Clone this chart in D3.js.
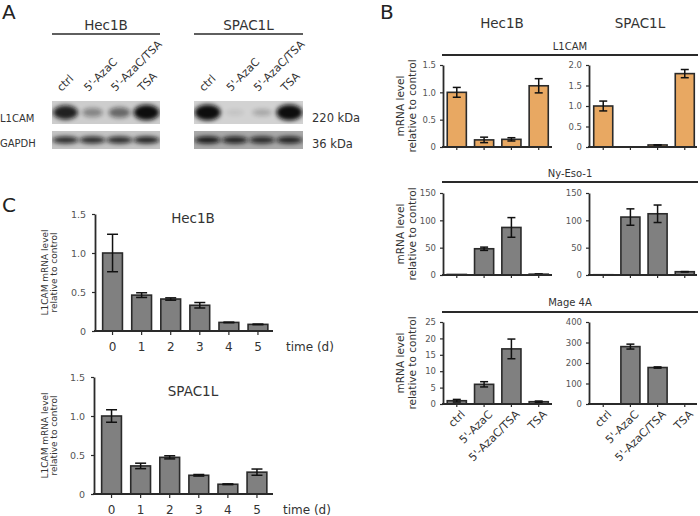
<!DOCTYPE html>
<html><head><meta charset="utf-8">
<script src="https://cdn.jsdelivr.net/npm/d3@7"></script>
<style>
body{margin:0;background:#fff}
svg{display:block}
text{font-family:"DejaVu Sans",Verdana,sans-serif}
</style>
</head><body>
<svg id="fig" width="700" height="516"></svg>
<script>
// ---------- DATA ----------
const treatments = ["ctrl", "5'-AzaC", "5'-AzaC/TSA", "TSA"];
const cellLines = ["Hec1B", "SPAC1L"];
const blotTargets = ["L1CAM", "GAPDH"];
const blotSizes = ["220 kDa", "36 kDa"];
// Panel A: band darkness (0..1) read from the blots
const blotHecL1CAM = [0.85, 0.35, 0.5, 0.97];
const blotHecGAPDH = [0.8, 0.8, 0.8, 0.85];
const blotSpacL1CAM = [1.0, 0.07, 0.2, 1.0];
const blotSpacGAPDH = [0.9, 0.85, 0.8, 0.85];
// Panel B: mRNA level relative to control
const bGenes = ["L1CAM", "Ny-Eso-1", "Mage 4A"];
const l1camHec = [1.0, 0.13, 0.14, 1.12];
const l1camHecErr = [0.09, 0.05, 0.03, 0.13];
const l1camSpac = [1.0, 0.0, 0.05, 1.79];
const l1camSpacErr = [0.12, 0, 0.005, 0.1];
const nyHec = [1.0, 48, 87, 1.5];
const nyHecErr = [0, 3, 18, 0.5];
const nySpac = [0.5, 106, 112, 6];
const nySpacErr = [0, 15, 16, 0.3];
const mageHec = [1.0, 6.0, 16.8, 0.7];
const mageHecErr = [0.4, 0.8, 3.0, 0.2];
const mageSpac = [1, 280, 178, 1];
const mageSpacErr = [0, 12, 3, 0];
const ticksL1camHec = [0, 0.5, 1.0, 1.5];
const ticksL1camSpac = [0, 0.5, 1.0, 1.5, 2.0];
const ticksNy = [0, 50, 100, 150];
const ticksMageHec = [0, 5, 10, 15, 20, 25];
const ticksMageSpac = [0, 100, 200, 300, 400];
// Panel C: time course
const days = [0, 1, 2, 3, 4, 5];
const timeHec = [1.0, 0.46, 0.41, 0.33, 0.11, 0.085];
const timeHecErr = [0.24, 0.03, 0.015, 0.035, 0.004, 0.004];
const timeSpac = [1.0, 0.36, 0.47, 0.24, 0.125, 0.28];
const timeSpacErr = [0.08, 0.035, 0.02, 0.01, 0.005, 0.04];
const ticksTime = [0, 0.5, 1.0, 1.5];

// ---------- DRAWING ----------
const svg = d3.select("#fig");
const INK = "#2a2a2a", TXT = "#333", TICK = "#555";
const fmtDec = d => d === 0 ? "0" : d3.format(".1f")(d);
const fmtInt = d => String(d);

function panelLetter(t, x, y) {
  svg.append("text").attr("x", x).attr("y", y).attr("font-size", 20).attr("fill", "#222").text(t);
}
panelLetter("A", 2, 19);
panelLetter("B", 380, 19);
panelLetter("C", 2, 212);

// ===== Panel A =====
const defs = svg.append("defs");
defs.append("filter").attr("id", "blur").attr("x", "-50%").attr("y", "-80%").attr("width", "200%").attr("height", "260%")
  .append("feGaussianBlur").attr("stdDeviation", 2.2);

const blotGroups = [
  {name: "Hec1B", x0: 52, x1: 160, rows: [blotHecL1CAM, blotHecGAPDH], bg: ["#cdcdcd", "#c4c4c4"]},
  {name: "SPAC1L", x0: 194, x1: 303, rows: [blotSpacL1CAM, blotSpacGAPDH], bg: ["#d2d2d2", "#a9a9a9"]}
];
const rowY = [[101, 124], [131, 149]];

blotGroups.forEach((bgp, gi) => {
  const lane = d3.scalePoint().domain(treatments).range([bgp.x0, bgp.x1]).padding(0.5);
  svg.append("text").attr("x", (bgp.x0 + bgp.x1) / 2).attr("y", 30).attr("text-anchor", "middle")
    .attr("font-size", 13.5).attr("fill", TXT).text(bgp.name);
  svg.append("line").attr("x1", bgp.x0).attr("x2", bgp.x1).attr("y1", 34).attr("y2", 34)
    .attr("stroke", INK).attr("stroke-width", 1.5);
  treatments.forEach(t => {
    svg.append("text").attr("transform", `translate(${lane(t) - 4},92) rotate(-45)`)
      .attr("font-size", 11).attr("fill", TXT).text(t);
  });
  bgp.rows.forEach((vals, ri) => {
    const [ya, yb] = rowY[ri];
    const cid = `clip${gi}${ri}`;
    defs.append("clipPath").attr("id", cid).append("rect")
      .attr("x", bgp.x0).attr("y", ya).attr("width", bgp.x1 - bgp.x0).attr("height", yb - ya);
    const g = svg.append("g").attr("clip-path", `url(#${cid})`);
    g.append("rect").attr("x", bgp.x0).attr("y", ya).attr("width", bgp.x1 - bgp.x0).attr("height", yb - ya)
      .attr("fill", bgp.bg[ri]);
    const yc = (ya + yb) / 2;
    g.selectAll("ellipse").data(vals).join("ellipse")
      .attr("cx", (d, i) => lane(treatments[i]))
      .attr("cy", yc)
      .attr("rx", d => ri === 0 ? 9 + 4 * d : 13)
      .attr("ry", d => ri === 0 ? 2.5 + 5.5 * d : 3.6)
      .attr("fill", "#0e0e0e")
      .attr("opacity", d => Math.min(1, d * 1.05))
      .attr("filter", "url(#blur)");
  });
});
blotTargets.forEach((t, ri) => {
  svg.append("text").attr("x", 0).attr("y", ri === 0 ? 122 : 147).attr("font-size", 10).attr("fill", TXT).text(t);
  svg.append("text").attr("x", 312).attr("y", ri === 0 ? 122 : 148).attr("font-size", 11.5).attr("fill", TXT).text(blotSizes[ri]);
});

// ===== generic bar chart =====
function barChart(o) {
  const g = svg.append("g");
  const x = d3.scaleBand().domain(o.cats).range(o.xr).paddingInner(o.padIn).paddingOuter(o.padOut);
  const y = d3.scaleLinear().domain([0, o.ymax]).range([o.y0, o.y1]);
  // bars
  g.selectAll("rect.bar").data(o.values).join("rect").attr("class", "bar")
    .attr("x", (d, i) => x(o.cats[i])).attr("width", x.bandwidth())
    .attr("y", d => y(d)).attr("height", d => o.y0 - y(d))
    .attr("fill", o.fill).attr("stroke", INK).attr("stroke-width", 1.6);
  // error bars
  const eb = g.selectAll("g.err").data(o.values.map((v, i) => ({v, e: o.errs[i], c: o.cats[i]})).filter(d => d.e > 0))
    .join("g").attr("class", "err");
  eb.append("line").attr("x1", d => x(d.c) + x.bandwidth() / 2).attr("x2", d => x(d.c) + x.bandwidth() / 2)
    .attr("y1", d => y(d.v - d.e)).attr("y2", d => y(d.v + d.e)).attr("stroke", "#111").attr("stroke-width", 1.5);
  [-1, 1].forEach(s => {
    eb.append("line").attr("x1", d => x(d.c) + x.bandwidth() / 2 - o.cap).attr("x2", d => x(d.c) + x.bandwidth() / 2 + o.cap)
      .attr("y1", d => y(d.v + s * d.e)).attr("y2", d => y(d.v + s * d.e)).attr("stroke", "#111").attr("stroke-width", 1.5);
  });
  // y axis
  const ya = g.append("g").attr("transform", `translate(${o.ax},0)`)
    .call(d3.axisLeft(y).tickValues(o.ticks).tickFormat(o.fmt).tickSize(3).tickSizeOuter(0).tickPadding(o.tp || 4));
  ya.select(".domain").attr("stroke", INK).attr("stroke-width", 1.8);
  ya.selectAll(".tick line").attr("stroke", INK).attr("stroke-width", 1.2);
  ya.selectAll(".tick text").attr("font-size", o.tf).attr("fill", TICK).attr("font-family", "DejaVu Sans");
  // x axis line with ticks
  g.append("line").attr("x1", o.ax - 1).attr("x2", o.xend).attr("y1", o.y0).attr("y2", o.y0)
    .attr("stroke", INK).attr("stroke-width", 1.8);
  const xa = g.append("g").attr("transform", `translate(0,${o.y0})`)
    .call(d3.axisBottom(x).tickSize(o.xts || 3).tickSizeOuter(0).tickPadding(o.xtp || 6).tickFormat(o.xlabels ? null : ""));
  xa.select(".domain").remove();
  xa.selectAll(".tick line").attr("stroke", INK).attr("stroke-width", 1.2);
  if (o.xlabels === "rot") {
    xa.selectAll(".tick text").attr("font-size", 11).attr("fill", TXT).attr("font-family", "DejaVu Sans")
      .attr("text-anchor", "end").attr("transform", "translate(2,4) rotate(-45)").attr("dy", "0.35em").attr("y", 6).attr("x", 0);
  } else if (o.xlabels) {
    xa.selectAll(".tick text").attr("font-size", 12).attr("fill", TXT).attr("font-family", "DejaVu Sans");
  }
  // y title
  if (o.ytitle) {
    const cy = (o.y0 + o.y1) / 2;
    o.ytitle.forEach((line, i) => {
      svg.append("text").attr("transform", `translate(${o.ytx[i]},${cy}) rotate(-90)`).attr("text-anchor", "middle")
        .attr("font-size", o.ytf).attr("fill", TXT).text(line);
    });
  }
  return {x, y};
}

// ===== Panel B =====
const hecXR = [444.5, 551], spacXR = [591, 697];
svg.append("text").attr("x", 502).attr("y", 28).attr("text-anchor", "middle").attr("font-size", 13.5).attr("fill", TXT).text(cellLines[0]);
svg.append("text").attr("x", 640).attr("y", 28).attr("text-anchor", "middle").attr("font-size", 13.5).attr("fill", TXT).text(cellLines[1]);
const bRows = [
  {gene: bGenes[0], tY: 50, lY: 55, y0: 147, y1: 65, h: [l1camHec, l1camHecErr, 1.5, ticksL1camHec, fmtDec], s: [l1camSpac, l1camSpacErr, 2.0, ticksL1camSpac, fmtDec], fill: "#e8a862"},
  {gene: bGenes[1], tY: 177, lY: 182, y0: 275, y1: 193, h: [nyHec, nyHecErr, 150, ticksNy, fmtInt], s: [nySpac, nySpacErr, 150, ticksNy, fmtInt], fill: "#808080"},
  {gene: bGenes[2], tY: 306, lY: 312, y0: 404, y1: 322, h: [mageHec, mageHecErr, 25, ticksMageHec, fmtInt], s: [mageSpac, mageSpacErr, 400, ticksMageSpac, fmtInt], fill: "#808080"}
];
bRows.forEach((r, ri) => {
  svg.append("text").attr("x", 570).attr("y", r.tY).attr("text-anchor", "middle").attr("font-size", 10).attr("fill", TXT).text(r.gene);
  svg.append("line").attr("x1", 442).attr("x2", 698).attr("y1", r.lY).attr("y2", r.lY).attr("stroke", INK).attr("stroke-width", 2);
  const last = ri === 2;
  barChart({cats: treatments, values: r.h[0], errs: r.h[1], ymax: r.h[2], ticks: r.h[3], fmt: r.h[4],
    xr: hecXR, padIn: 0.3, padOut: 0.1, y0: r.y0, y1: r.y1, ax: 443, xend: 552, fill: r.fill, cap: 4, tf: 8.5,
    xlabels: last ? "rot" : null, ytitle: ["mRNA level", "relative to control"], ytx: [404, 415.5], ytf: 10.5});
  barChart({cats: treatments, values: r.s[0], errs: r.s[1], ymax: r.s[2], ticks: r.s[3], fmt: r.s[4],
    xr: spacXR, padIn: 0.3, padOut: 0.1, y0: r.y0, y1: r.y1, ax: 589, xend: 697, fill: r.fill, cap: 4, tf: 8.5,
    xlabels: last ? "rot" : null});
});

// ===== Panel C =====
const cPlots = [
  {name: cellLines[0], vals: timeHec, errs: timeHecErr, y0: 331, y1: 214, tx: 193, ty: 223, ax: 95, lx: 286},
  {name: cellLines[1], vals: timeSpac, errs: timeSpacErr, y0: 494, y1: 377, tx: 193, ty: 396, ax: 94, lx: 283}
];
cPlots.forEach(p => {
  barChart({cats: days, values: p.vals, errs: p.errs, ymax: 1.5, ticks: ticksTime, fmt: fmtDec,
    xr: [p.ax + 3, p.ax + 177.5], padIn: 0.32, padOut: 0.16, y0: p.y0, y1: p.y1, ax: p.ax, xend: 273, fill: "#808080",
    cap: 5.5, tf: 9.5, tp: 6, xlabels: true, xts: 4, xtp: 7,
    ytitle: ["L1CAM mRNA level", "relative to control"], ytx: [48, 56.5], ytf: 9});
  svg.append("text").attr("x", p.tx).attr("y", p.ty).attr("text-anchor", "middle").attr("font-size", 13.5).attr("fill", TXT).text(p.name);
  svg.append("text").attr("x", p.lx).attr("y", p.y0 + 20).attr("font-size", 12).attr("fill", TXT).text("time (d)");
});
</script>
</body></html>
